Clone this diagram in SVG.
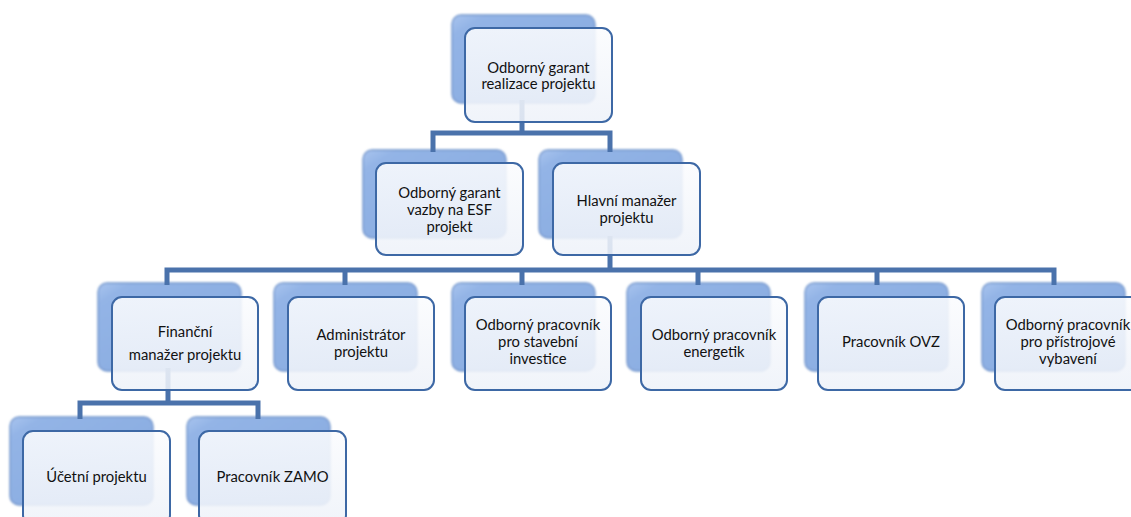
<svg xmlns="http://www.w3.org/2000/svg" width="1131" height="517" viewBox="0 0 1131 517">
<defs>
<linearGradient id="gBack" x1="0" y1="0" x2="1" y2="1">
<stop offset="0" stop-color="#a9c4ee"/>
<stop offset="0.12" stop-color="#93b4e6"/>
<stop offset="1" stop-color="#86a9de"/>
</linearGradient>
<linearGradient id="gFront" x1="0" y1="0" x2="0" y2="1">
<stop offset="0" stop-color="#fbfcfe"/>
<stop offset="1" stop-color="#eef2f9"/>
</linearGradient>
<filter id="soft" x="-10%" y="-10%" width="120%" height="120%">
<feGaussianBlur stdDeviation="0.8"/>
</filter>
</defs>
<style>
.back{fill:url(#gBack);stroke:#7396cc;stroke-width:1.4;filter:url(#soft)}
.front{fill:url(#gFront);fill-opacity:0.88;stroke:#3d68a5;stroke-width:2}
.conn{fill:none;stroke:#4a72ab;stroke-width:5;stroke-linejoin:miter}
text{font-family:Lato,"Liberation Sans",sans-serif;font-size:14.8px;fill:#111;text-anchor:middle}
</style>
<rect width="1131" height="517" fill="#ffffff"/>
<g id="backs">
<rect class="back" x="452" y="15" width="143" height="88" rx="9"/>
<rect class="back" x="363" y="150" width="143" height="88" rx="9"/>
<rect class="back" x="539" y="150" width="143" height="88" rx="9"/>
<rect class="back" x="98" y="283" width="143" height="88" rx="9"/>
<rect class="back" x="274" y="283" width="143" height="88" rx="9"/>
<rect class="back" x="452" y="283" width="143" height="88" rx="9"/>
<rect class="back" x="627" y="283" width="143" height="88" rx="9"/>
<rect class="back" x="805" y="283" width="143" height="88" rx="9"/>
<rect class="back" x="982" y="283" width="143" height="88" rx="9"/>
<rect class="back" x="10" y="417" width="143" height="88" rx="9"/>
<rect class="back" x="187" y="417" width="143" height="88" rx="9"/>
</g>
<g id="connectors">
<path class="conn" d="M522,100 V133 M433,152 V133 H610 V152"/>
<path class="conn" d="M610,236 V270 M167,285 V270 H1054 V285 M345,270 V285 M522,270 V285 M698,270 V285 M877,270 V285"/>
<path class="conn" d="M168,368 V403 M80,419 V403 H258 V419"/>
</g>
<g id="n-garant">
<rect class="front" x="465" y="28" width="147" height="94" rx="10"/>
<text x="538.5" y="73">Odborný garant</text>
<text x="538.5" y="89">realizace projektu</text>
</g>
<g id="n-esf">
<rect class="front" x="376" y="163" width="147" height="92" rx="10"/>
<text x="449.5" y="198">Odborný garant</text>
<text x="449.5" y="215">vazby na ESF</text>
<text x="449.5" y="232">projekt</text>
</g>
<g id="n-hlavni">
<rect class="front" x="553" y="163" width="147" height="92" rx="10"/>
<text x="626.5" y="206">Hlavní manažer</text>
<text x="626.5" y="223">projektu</text>
</g>
<g id="n-financni">
<rect class="front" x="112" y="297" width="146" height="93" rx="10"/>
<text x="185" y="337">Finanční</text>
<text x="185" y="360">manažer projektu</text>
</g>
<g id="n-admin">
<rect class="front" x="288" y="297" width="146" height="93" rx="10"/>
<text x="361" y="340">Administrátor</text>
<text x="361" y="357">projektu</text>
</g>
<g id="n-stavebni">
<rect class="front" x="465" y="297" width="146" height="93" rx="10"/>
<text x="538" y="330">Odborný pracovník</text>
<text x="538" y="347">pro stavební</text>
<text x="538" y="364">investice</text>
</g>
<g id="n-energetik">
<rect class="front" x="641" y="297" width="146" height="93" rx="10"/>
<text x="714" y="340">Odborný pracovník</text>
<text x="714" y="357">energetik</text>
</g>
<g id="n-ovz">
<rect class="front" x="818" y="297" width="146" height="93" rx="10"/>
<text x="891" y="347">Pracovník OVZ</text>
</g>
<g id="n-pristroj">
<rect class="front" x="995" y="297" width="146" height="93" rx="10"/>
<text x="1068" y="330">Odborný pracovník</text>
<text x="1068" y="347">pro přístrojové</text>
<text x="1068" y="364">vybavení</text>
</g>
<g id="n-ucetni">
<rect class="front" x="23" y="431" width="147" height="94" rx="10"/>
<text x="96.5" y="482">Účetní projektu</text>
</g>
<g id="n-zamo">
<rect class="front" x="199" y="431" width="147" height="94" rx="10"/>
<text x="272.5" y="482">Pracovník ZAMO</text>
</g>
</svg>
